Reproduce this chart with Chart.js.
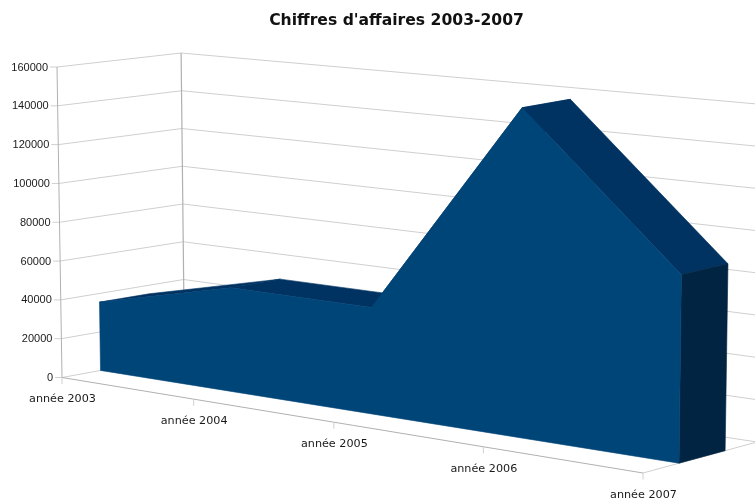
<!DOCTYPE html>
<html>
<head>
<meta charset="utf-8">
<title>Chiffres d'affaires 2003-2007</title>
<script src="https://cdn.jsdelivr.net/npm/chart.js@4"></script>
<style>
  html, body { margin: 0; padding: 0; background: #fff; }
  #box { position: relative; width: 755px; height: 499px; overflow: hidden; }
  canvas { display: block; }
</style>
</head>
<body>
<div id="box"><canvas id="myChart" width="755" height="499"></canvas></div>
<script>
// Data
const annees = ['année 2003', 'année 2004', 'année 2005', 'année 2006', 'année 2007'];
const chiffres = [35500, 52500, 52500, 158500, 88000];
const yMin = 0;
const yMax = 160000;
const yStep = 20000;

// Floor corners on screen: front-left, front-right, back-right, back-left
const floorQuad = [[62, 377.5], [643, 473], [757, 442], [184.5, 355]];
// Screen vector from floor to the top of the box at those same corners
const riseQuad = [[-5, -310.5], [3.6, -345], [5.8, -337.5], [-3.4, -302]];
// Evens out the category spacing along the floor a little
const spacingFix = 0.033;

// Where the area sits between the front (0) and the back wall (1)
const areaFront = 0.305;
const areaBack = 0.71;

const colFront = 'rgb(0, 69, 120)';
const colTop = 'rgb(0, 50, 98)';
const colSide = 'rgb(0, 36, 65)';
const colGrid = '#cfcfcf';
const colAxis = '#b0b0b0';
const colText = '#1a1a1a';
const xTickFont = '11.2px "DejaVu Sans"';
const yTickFont = '11px "Liberation Sans"';

// Unit square -> quad (perspective)
function makeHomography(q) {
  const [p0, p1, p2, p3] = q;
  const dx1 = p1[0] - p2[0], dx2 = p3[0] - p2[0], sx = p0[0] - p1[0] + p2[0] - p3[0];
  const dy1 = p1[1] - p2[1], dy2 = p3[1] - p2[1], sy = p0[1] - p1[1] + p2[1] - p3[1];
  const den = dx1 * dy2 - dx2 * dy1;
  const g = (sx * dy2 - dx2 * sy) / den;
  const h = (dx1 * sy - sx * dy1) / den;
  const a = p1[0] - p0[0] + g * p1[0], b = p3[0] - p0[0] + h * p3[0];
  const d = p1[1] - p0[1] + g * p1[1], e = p3[1] - p0[1] + h * p3[1];
  return (u, t) => {
    const w = g * u + h * t + 1;
    return [(a * u + b * t + p0[0]) / w, (d * u + e * t + p0[1]) / w];
  };
}
const floorH = makeHomography(floorQuad);

// Scale pixels (px, py) plus a depth -> screen position
function project(chart, px, py, depth) {
  const x = chart.scales.x, y = chart.scales.y;
  let u = (px - x.left) / x.width;
  u += spacingFix * u * (1 - u);
  const v = (y.bottom - py) / y.height;
  const f = floorH(u, depth);
  // apparent height changes linearly across the screen
  const x0 = floorH(0, depth)[0], x1 = floorH(1, depth)[0];
  const s = (f[0] - x0) / (x1 - x0);
  const rise = [0, 1].map(k => {
    const near = riseQuad[0][k] + (riseQuad[1][k] - riseQuad[0][k]) * s;
    const far = riseQuad[3][k] + (riseQuad[2][k] - riseQuad[3][k]) * s;
    return near + (far - near) * depth;
  });
  return [f[0] + rise[0] * v, f[1] + rise[1] * v];
}

function line(ctx, a, b, color, width) {
  ctx.strokeStyle = color;
  ctx.lineWidth = width || 1;
  ctx.beginPath();
  ctx.moveTo(a[0], a[1]);
  ctx.lineTo(b[0], b[1]);
  ctx.stroke();
}

function poly(ctx, pts, color) {
  ctx.fillStyle = color;
  ctx.strokeStyle = color;
  ctx.lineWidth = 0.6;
  ctx.beginPath();
  pts.forEach((p, i) => i ? ctx.lineTo(p[0], p[1]) : ctx.moveTo(p[0], p[1]));
  ctx.closePath();
  ctx.fill();
  ctx.stroke();
}

const box3d = {
  id: 'box3d',
  beforeDatasetsDraw(chart) {
    const ctx = chart.ctx, x = chart.scales.x, y = chart.scales.y;
    const xl = x.left, xr = x.right;
    ctx.save();

    // walls grid and y labels
    ctx.font = yTickFont;
    ctx.textAlign = 'right';
    ctx.textBaseline = 'middle';
    y.ticks.forEach(t => {
      const py = y.getPixelForValue(t.value);
      const front = project(chart, xl, py, 0);
      const back = project(chart, xl, py, 1);
      const right = project(chart, xr, py, 1);
      line(ctx, front, back, colGrid);
      line(ctx, back, right, colGrid);
      line(ctx, [front[0] - 7, front[1]], front, colGrid);
      ctx.fillStyle = colText;
      ctx.fillText(String(t.value), front[0] - 9, front[1] + 0.5);
    });

    // box edges
    const y0 = y.getPixelForValue(yMin), y1 = y.getPixelForValue(yMax);
    line(ctx, project(chart, xl, y0, 0), project(chart, xl, y1, 0), colAxis);
    line(ctx, project(chart, xl, y0, 1), project(chart, xl, y1, 1), colAxis, 1.2);
    line(ctx, project(chart, xl, y0, 0), project(chart, xr, y0, 0), colAxis);
    line(ctx, project(chart, xr, y0, 0), project(chart, xr, y0, 1), colGrid);

    // x ticks and labels
    ctx.font = xTickFont;
    ctx.textAlign = 'center';
    annees.forEach((name, i) => {
      const p = project(chart, x.getPixelForValue(i), y0, 0);
      line(ctx, p, [p[0], p[1] + 6.5], colGrid);
      ctx.fillStyle = colText;
      ctx.fillText(x.getLabelForValue(i), p[0] + 0.5, p[1] + 22);
    });
    ctx.restore();
  },
  afterDatasetsDraw(chart) {
    const ctx = chart.ctx, y = chart.scales.y;
    const pts = chart.getDatasetMeta(0).data;
    const y0 = y.getPixelForValue(yMin);
    const n = pts.length;
    ctx.save();

    // top faces, far ones first
    for (let i = 0; i < n - 1; i++) {
      poly(ctx, [
        project(chart, pts[i].x, pts[i].y, areaFront),
        project(chart, pts[i + 1].x, pts[i + 1].y, areaFront),
        project(chart, pts[i + 1].x, pts[i + 1].y, areaBack),
        project(chart, pts[i].x, pts[i].y, areaBack)
      ], colTop);
    }

    // right side
    const last = pts[n - 1];
    poly(ctx, [
      project(chart, last.x, last.y, areaFront),
      project(chart, last.x, last.y, areaBack),
      project(chart, last.x, y0, areaBack),
      project(chart, last.x, y0, areaFront)
    ], colSide);

    // front face
    const front = pts.map(p => project(chart, p.x, p.y, areaFront));
    front.push(project(chart, last.x, y0, areaFront));
    front.push(project(chart, pts[0].x, y0, areaFront));
    poly(ctx, front, colFront);
    ctx.restore();
  }
};

const myChart = new Chart(document.getElementById('myChart'), {
  type: 'line',
  data: {
    labels: annees,
    datasets: [{
      label: "Chiffres d'affaires",
      data: chiffres,
      showLine: false,
      pointRadius: 0,
      fill: false
    }]
  },
  options: {
    responsive: false,
    animation: false,
    layout: { padding: { left: 38, right: 0, top: 0, bottom: 0 } },
    scales: {
      x: { type: 'category', display: false, offset: false },
      y: { display: false, min: yMin, max: yMax, ticks: { stepSize: yStep, autoSkip: false } }
    },
    plugins: {
      legend: { display: false },
      tooltip: { enabled: false },
      title: {
        display: true,
        text: "Chiffres d'affaires 2003-2007",
        color: '#111',
        font: { family: '"DejaVu Sans"', size: 15.6, weight: 'bold' },
        padding: { top: 12, bottom: 10 }
      }
    }
  },
  plugins: [box3d]
});
</script>
</body>
</html>
